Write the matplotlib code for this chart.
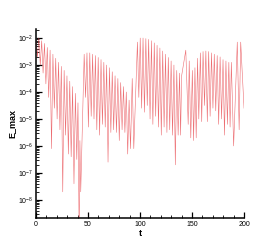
import numpy as np
import matplotlib
matplotlib.use("Agg")
import matplotlib.pyplot as plt
from matplotlib.ticker import LogLocator, MultipleLocator, FixedLocator

plt.rcParams['font.family'] = ['Liberation Sans', 'DejaVu Sans']

# alternating peaks / dips, log10(E_max)
t_pts = [
    0.0, 1.4, 2.75, 4.1, 5.45, 6.8, 8.15, 9.5, 10.85, 12.2, 13.55, 14.9, 16.25, 17.6,
    18.95, 20.3, 21.65, 23.0, 24.35, 25.7, 27.05, 28.4, 29.75, 31.1, 32.45, 33.8,
    35.15, 36.5, 37.85, 39.2, 40.35, 41.5, 42.2, 43.0,
    46.3, 47.65, 49.0, 50.35, 51.7, 53.05, 54.4, 55.75, 57.1, 58.45, 59.8, 61.15,
    62.5, 63.85, 65.2, 66.55, 67.9, 69.25, 70.6, 71.95, 73.3, 74.65, 76.0, 77.35,
    78.7, 80.05, 81.4, 82.75, 84.1, 85.45, 86.8, 88.15, 89.5, 90.85, 92.5, 94.0,
    97.5, 98.85, 100.2, 101.55, 102.9, 104.25, 105.6, 106.95, 108.3, 109.65, 111.0,
    112.35, 113.7, 115.05, 116.4, 117.75, 119.1, 120.45, 121.8, 123.15, 124.5,
    125.85, 127.2, 128.55, 129.9, 131.25, 132.6, 133.95, 135.3, 136.65,
    138.0, 139.0, 140.0, 144.0, 146.3, 147.3, 148.8, 150.3, 151.5, 152.8, 154.0,
    155.3, 156.5, 158.0, 159.3, 160.6, 162.0, 163.3, 164.7, 166.0, 167.4, 168.7,
    170.1, 171.4, 172.8, 174.2, 175.6, 177.0, 178.4, 179.8, 181.2, 182.6, 184.0,
    185.4, 186.6, 187.8, 190.0, 193.5, 195.3, 196.8, 200.0,
]
log_e_max = [
    -2.05, -2.7, -2.0, -3.0, -2.1, -3.3, -2.2, -3.7, -2.35, -4.2, -2.45, -6.1, -2.6, -4.6,
    -2.75, -5.0, -2.9, -5.4, -3.05, -7.7, -3.2, -5.6, -3.4, -6.3, -3.6, -6.4,
    -3.8, -7.4, -4.05, -6.5, -4.4, -9.5, -5.8, -7.7,
    -2.6, -4.2, -2.55, -5.3, -2.55, -4.9, -2.6, -5.0, -2.65, -5.4, -2.72, -5.6,
    -2.8, -5.2, -2.9, -5.3, -3.0, -6.6, -3.1, -5.5, -3.25, -5.4, -3.4, -5.5,
    -3.5, -5.8, -3.65, -5.4, -3.8, -5.5, -4.0, -6.3, -4.3, -6.1, -3.5, -6.1,
    -2.15, -4.2, -2.0, -4.6, -2.0, -4.75, -2.02, -4.5, -2.05, -5.0, -2.1,
    -5.2, -2.18, -4.9, -2.27, -5.3, -2.37, -5.6, -2.48, -5.3, -2.6,
    -5.5, -2.72, -5.4, -2.85, -5.6, -3.0, -6.7, -3.2, -5.6,
    -3.3, -5.6, -3.4, -2.45, -5.2, -2.85, -5.7, -3.2, -5.8, -3.1, -5.7,
    -2.75, -5.0, -2.55, -5.1, -2.5, -4.5, -2.48, -5.1, -2.5, -4.9, -2.55,
    -4.6, -2.6, -4.7, -2.65, -5.2, -2.7, -5.0, -2.8, -5.6, -2.85, -5.2,
    -2.9, -5.3, -2.9, -6.0, -2.15, -5.4, -2.15, -4.6,
]
y_ticks = [1e-8, 1e-7, 1e-6, 1e-5, 1e-4, 1e-3, 1e-2]

e_max = 10.0 ** np.array(log_e_max)

fig = plt.figure(figsize=(2.77, 2.46), dpi=100)
ax = fig.add_axes([0.130, 0.114, 0.751, 0.768])
ax.plot(t_pts, e_max, color='#e8484e', lw=0.4, alpha=0.8)

ax.set_yscale('log')
ax.set_xlim(0, 200)
ax.set_ylim(10 ** -8.667, 10 ** -1.667)
ax.xaxis.set_major_locator(MultipleLocator(50))
ax.xaxis.set_minor_locator(MultipleLocator(10))
ax.yaxis.set_major_locator(FixedLocator(y_ticks))
ax.yaxis.set_minor_locator(LogLocator(base=10, subs=np.arange(2, 10), numticks=20))

for s in ['top', 'right']:
    ax.spines[s].set_visible(False)
for s in ['left', 'bottom']:
    ax.spines[s].set_linewidth(1.1)

ax.tick_params(which='major', direction='in', length=4, width=0.9, labelsize=5, pad=2)
ax.tick_params(which='minor', direction='in', length=2, width=0.6)
ax.tick_params(top=False, right=False)

ax.set_xlabel('t', fontsize=6.5, fontweight='bold', labelpad=1)
ax.set_ylabel('E_max', fontsize=6.5, fontweight='bold', labelpad=1)

fig.savefig('out.png', dpi=100)
